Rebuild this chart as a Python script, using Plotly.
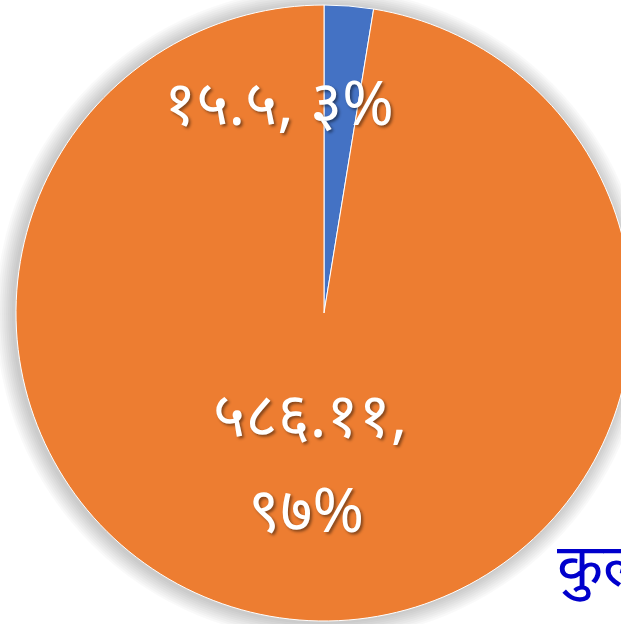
import math
import plotly.graph_objects as go

# data
labels = ["भाग १", "भाग २"]
values = [15.5, 586.11]
value_text = ["१५.५", "५८६.११"]
pct_text = ["३%", "९७%"]
colors = ["#4472C4", "#ED7D31"]
title_text = "कुल"

W, H = 640, 624
CX, CY, R = 324, 313, 308

fig = go.Figure()
fig.add_trace(go.Pie(
    labels=labels, values=values, sort=False, direction="clockwise", rotation=0,
    marker=dict(colors=colors, line=dict(color="white", width=1)),
    textinfo="none", hoverinfo="label+value+percent", showlegend=False,
    domain=dict(x=[(CX - R) / W, (CX + R) / W], y=[1 - (CY + R) / H, 1 - (CY - R) / H]),
))

# soft shadow behind the pie
shapes = []
for k in range(1, 10):
    r = R + k * 2
    shapes.append(dict(type="circle", xref="paper", yref="paper", layer="below",
                       x0=(CX - 2 - r) / W, x1=(CX - 2 + r) / W,
                       y0=1 - (CY + 1 + r) / H, y1=1 - (CY + 1 - r) / H,
                       fillcolor="rgba(0,0,0,0.025)", line=dict(width=0)))

FONT = "Noto Sans, DejaVu Sans, sans-serif"
SHADOW = "2px 2px 3px rgba(0,0,0,0.45)"

# data labels positioned from slice angles
total = sum(values)
annotations = []
cum = 0
label_cfg = [(0.69, -62, False), (0.49, -2, True)]
for v, vt, pt, (frac, xs, split) in zip(values, value_text, pct_text, label_cfg):
    mid = (cum + v / 2) / total * 2 * math.pi
    cum += v
    px = CX + frac * R * math.sin(mid) + xs
    py = CY - frac * R * math.cos(mid)
    if split:
        lines = [(f"{vt},", py - 50, 0), (pt, py + 45, -4)]
    else:
        lines = [(f"{vt}, {pt}", py, 0)]
    for txt, ly, dx in lines:
        annotations.append(dict(
            x=(px + dx) / W, y=1 - ly / H, xref="paper", yref="paper", showarrow=False,
            text=txt, align="center", xanchor="center", yanchor="middle",
            font=dict(family=FONT, size=62, color="white", shadow=SHADOW),
        ))

annotations.append(dict(
    x=555 / W, y=1 - 563 / H, xref="paper", yref="paper", showarrow=False,
    xanchor="left", yanchor="middle", text=title_text,
    font=dict(family=FONT, size=60, color="#0000CC"),
))

fig.update_layout(
    width=W, height=H, margin=dict(l=0, r=0, t=0, b=0),
    paper_bgcolor="white", plot_bgcolor="white",
    shapes=shapes, annotations=annotations,
)

fig.write_html(
    "out.html",
    config={"displayModeBar": False},
    post_script="document.body.style.margin='0';document.body.style.overflow='hidden';"
                "document.documentElement.style.overflow='hidden';",
)
